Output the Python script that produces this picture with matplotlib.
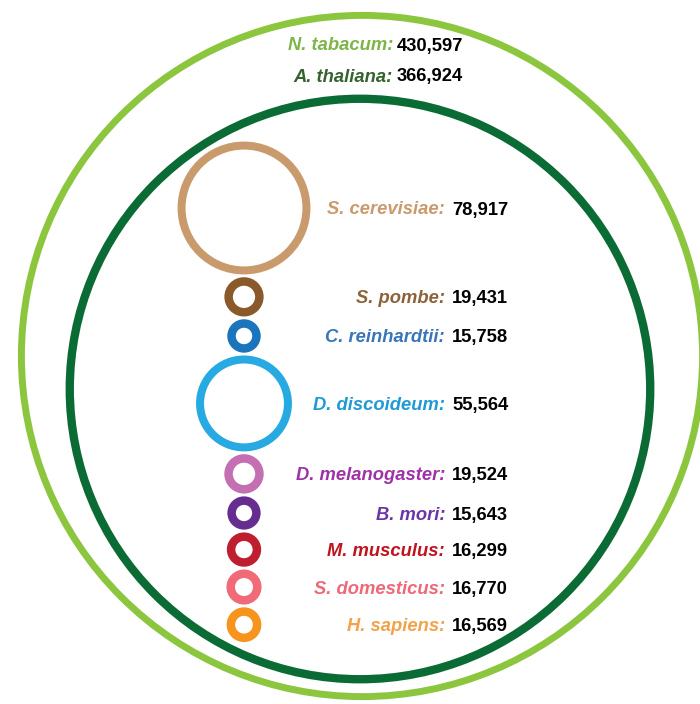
import matplotlib
matplotlib.use('Agg')
import matplotlib.pyplot as plt
from matplotlib.patches import Circle

plt.rcParams['font.family'] = ['Liberation Sans', 'DejaVu Sans']

# ---- data ----
big_species = ['N. tabacum', 'A. thaliana']
big_values = [430597, 366924]

species = ['S. cerevisiae', 'S. pombe', 'C. reinhardtii', 'D. discoideum',
           'D. melanogaster', 'B. mori', 'M. musculus', 'S. domesticus', 'H. sapiens']
values = [78917, 19431, 15758, 55564, 19524, 15643, 16299, 16770, 16569]

# ---- styles ----
big_ring_colors = ['#8CC63F', '#0B6B35']
big_text_colors = ['#7DB548', '#35622F']
ring_colors = ['#C99A6C', '#8B5A2B', '#1B75BC', '#27AAE1', '#C56FB3',
               '#662D91', '#BE1E2D', '#F06A77', '#F7941D']
text_colors = ['#C99A6C', '#8B6239', '#3A74BA', '#1F9AD5', '#9E32A8',
               '#6B35A8', '#C1121F', '#EE6877', '#F2A24A']

# ---- layout (pixel units) ----
W, H = 700, 704
PX_PER_BP = 0.000791
big_centers = [(362, 356), (360, 389)]
big_lw = [5.0, 6.0]
big_label_y = [46, 77]
big_label_x = 393
stack_x = 244
stack_top_center = 208
gap = 2.8
label_x = 445
FS = 13.2

fig = plt.figure(figsize=(W / 100, H / 100), dpi=100)
ax = fig.add_axes([0, 0, 1, 1])
ax.set_xlim(0, W)
ax.set_ylim(H, 0)
ax.set_aspect('equal')
ax.axis('off')

pt_per_px = 72 / 100

for name, v, c, tc, (cx, cy), lw, ly in zip(big_species, big_values, big_ring_colors,
                                             big_text_colors, big_centers, big_lw,
                                             big_label_y):
    ax.add_patch(Circle((cx, cy), v * PX_PER_BP, fill=False, ec=c, lw=lw))
    ax.text(big_label_x, ly, name + ':', ha='right', va='center', fontsize=FS,
            style='italic', weight='bold', color=tc)
    ax.text(big_label_x + 4, ly, f'{v:,}', ha='left', va='center', fontsize=FS,
            weight='bold', color='black')

y = None
prev_outer = None
for name, v, c, tc in zip(species, values, ring_colors, text_colors):
    r = v * PX_PER_BP
    ring_px = 8.0 if v > 30000 else 8.5
    outer = r + ring_px / 2
    if y is None:
        y = stack_top_center
    else:
        y = y + prev_outer + gap + outer
    prev_outer = outer
    ax.add_patch(Circle((stack_x, y), r, fill=False, ec=c, lw=ring_px * pt_per_px))
    ax.text(label_x, y + 2, name + ':', ha='right', va='center', fontsize=FS,
            style='italic', weight='bold', color=tc)
    ax.text(label_x + 7, y + 2, f'{v:,}', ha='left', va='center', fontsize=FS,
            weight='bold', color='black')

fig.savefig('out.png', dpi=100, facecolor='white')
